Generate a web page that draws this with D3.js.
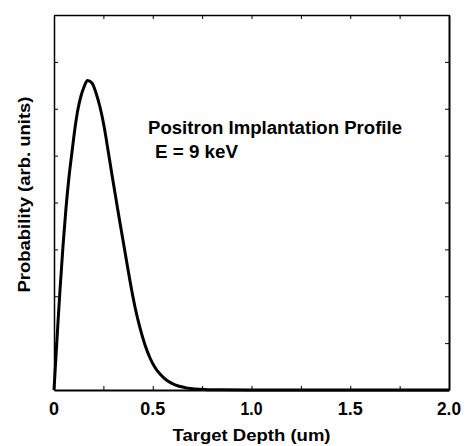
<!DOCTYPE html>
<html><head><meta charset="utf-8">
<script src="https://cdn.jsdelivr.net/npm/d3@7"></script>
<style>body{margin:0;background:#fff}svg{display:block}text{font-family:"Liberation Sans",Arial,sans-serif;font-weight:bold;fill:#000}</style>
</head><body>
<script>
// Data
const depth = [0, 0.0101, 0.0203, 0.0304, 0.0456, 0.0608, 0.0759, 0.0911, 0.1063, 0.1215, 0.1367, 0.1519, 0.1696,
  0.1924, 0.2127, 0.2329, 0.2532, 0.2734, 0.2937, 0.3139, 0.3342, 0.3595, 0.3848, 0.4101, 0.4354, 0.4608, 0.4861,
  0.5114, 0.5367, 0.5722, 0.6127, 0.6633, 0.7392, 0.8405, 0.9924, 2.0];
const probability = [0, 0.725, 1.451, 2.133, 3.072, 3.883, 4.544, 5.077, 5.589, 5.995, 6.272, 6.464, 6.603,
  6.549, 6.336, 6.037, 5.632, 5.12, 4.587, 4.075, 3.563, 2.944, 2.325, 1.771, 1.323, 0.96, 0.683,
  0.48, 0.341, 0.203, 0.111, 0.051, 0.017, 0.004, 0, 0];
const xTicks = [0, 0.25, 0.5, 0.75, 1.0, 1.25, 1.5, 1.75, 2.0];
const xLabelVals = [0, 0.5, 1.0, 1.5, 2.0];
const xLabels = ["0", "0.5", "1.0", "1.5", "2.0"];
const yTicks = [0, 1, 2, 3, 4, 5, 6, 7, 8];
const annotation = ["Positron Implantation Profile", "E = 9 keV"];
const xTitle = "Target Depth (um)";
const yTitle = "Probability (arb. units)";

const W = 465, H = 446;
const m = {l: 54, r: 16, t: 15, b: 56};
const svg = d3.select("body").append("svg").attr("width", W).attr("height", H);
const x = d3.scaleLinear().domain([0, 2]).range([m.l, W - m.r]);
const y = d3.scaleLinear().domain([0, 8]).range([H - m.b, m.t]);

// curve
const line = d3.line().x((d, i) => x(depth[i])).y(d => y(d)).curve(d3.curveMonotoneX);
svg.append("path").datum(probability).attr("d", line)
  .attr("fill", "none").attr("stroke", "#000").attr("stroke-width", 3).attr("stroke-linejoin", "round");

// axes (ticks inward, no labels)
const tk = 4;
const gB = svg.append("g").attr("transform", `translate(0,${y(0)})`)
  .call(d3.axisBottom(x).tickValues(xTicks).tickSizeInner(-tk).tickSizeOuter(0).tickFormat(""));
const gT = svg.append("g").attr("transform", `translate(0,${y(8)})`)
  .call(d3.axisTop(x).tickValues(xTicks).tickSizeInner(-tk).tickSizeOuter(0).tickFormat(""));
const gL = svg.append("g").attr("transform", `translate(${x(0)},0)`)
  .call(d3.axisLeft(y).tickValues(yTicks).tickSizeInner(-tk).tickSizeOuter(0).tickFormat(""));
const gR = svg.append("g").attr("transform", `translate(${x(2)},0)`)
  .call(d3.axisRight(y).tickValues(yTicks).tickSizeInner(-tk).tickSizeOuter(0).tickFormat(""));
[gB, gT, gL, gR].forEach(g => { g.selectAll("line").attr("stroke", "#000").attr("stroke-width", 1); g.select(".domain").attr("stroke", "#000"); });
gT.select(".domain").attr("stroke-width", 1.5);
gL.select(".domain").attr("stroke-width", 1.5);
gB.select(".domain").attr("stroke-width", 2.2);
gR.select(".domain").attr("stroke-width", 2);

// x tick labels
const labW = [10, 25, 22, 25, 24];
svg.selectAll(".xl").data(xLabelVals).join("text")
  .attr("x", d => x(d)).attr("y", 415).attr("text-anchor", "middle")
  .attr("textLength", (d, i) => labW[i]).attr("lengthAdjust", "spacingAndGlyphs")
  .style("font-size", "18.5px").text((d, i) => xLabels[i]);

// axis titles
svg.append("text").attr("x", (x(0) + x(2)) / 2).attr("y", 441).attr("text-anchor", "middle")
  .attr("textLength", 158).attr("lengthAdjust", "spacingAndGlyphs")
  .style("font-size", "17px").text(xTitle);
svg.append("text").attr("transform", `translate(30,194.5) rotate(-90)`).attr("text-anchor", "middle")
  .attr("textLength", 196).attr("lengthAdjust", "spacingAndGlyphs")
  .style("font-size", "16px").text(yTitle);

// annotation
const annX = [148, 155], annW = [254, 83];
svg.selectAll(".ann").data(annotation).join("text")
  .attr("x", (d, i) => annX[i]).attr("y", (d, i) => 134 + i * 24.3)
  .attr("textLength", (d, i) => annW[i]).attr("lengthAdjust", "spacingAndGlyphs")
  .style("font-size", "18px").text(d => d);
</script>
</body></html>
